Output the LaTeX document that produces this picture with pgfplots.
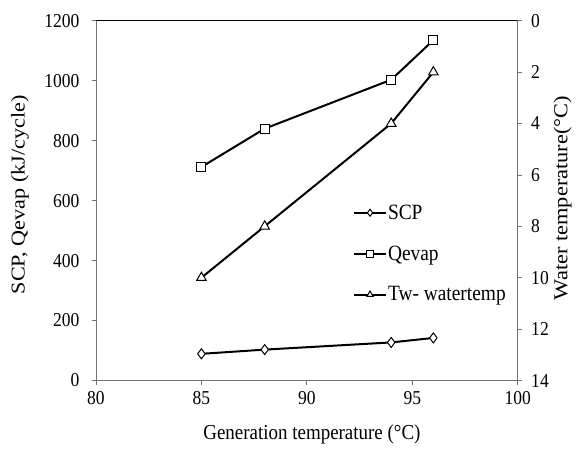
\documentclass[border=0pt]{standalone}
\usepackage{fontspec}
\setmainfont{Liberation Serif}
% the reference is stretched vertically, so text is condensed sideways
\newfontfamily\hfont[FakeStretch=0.89]{Liberation Serif}
\newfontfamily\vfont[FakeStretch=1.13]{Liberation Serif}
\usepackage{pgfplots}
\pgfplotsset{compat=1.18}

\begin{document}
\begin{tikzpicture}
\pgfplotsset{
  common/.style={
    scale only axis, width=421.7pt, height=359.8pt,
    xmin=80, xmax=100,
    tick align=outside, major tick length=4pt,
    every tick/.style={black!55, line width=0.8pt},
    axis line style={black!55, line width=0.9pt},
    tick label style={font=\hfont\fontsize{19.7}{21}\selectfont},
    /pgf/number format/assume math mode=true,
    /pgf/number format/1000 sep={},
  },
  ser/.style={black, line width=2pt, mark options={solid, fill=white, line width=1pt}},
}
\begin{axis}[
  common,
  axis x line*=bottom, axis y line*=left,
  ymin=0, ymax=1200, ytick={0,200,...,1200},
  xtick={80,85,90,95,100},
  yticklabel style={xshift=-9pt},
  xticklabel style={yshift=-3pt},
  xlabel={Generation temperature (°C)},
  ylabel={SCP, Qevap (kJ/cycle)},
  xlabel style={font=\hfont\fontsize{21.3}{23}\selectfont,
    at={(axis description cs:0.512,0)}, anchor=center, yshift=-53.5pt},
  % the label is turned by 90 degrees, so yshift moves it sideways
  ylabel style={font=\vfont\fontsize{19.6}{21}\selectfont,
    at={(axis description cs:0,0.516)}, anchor=center, yshift=76pt},
]
\addplot[ser, mark=diamond*, mark size=5pt] coordinates {(85,89) (88,103) (94,127) (96,142)};
\addplot[ser, mark=square*, mark size=4.5pt] coordinates {(85,712) (88,840) (94,1003) (96,1135)};
\end{axis}
\begin{axis}[
  common,
  axis x line=none, axis y line*=right,
  ymin=0, ymax=14, ytick={0,2,...,14}, y dir=reverse,
  yticklabel style={xshift=6pt},
  ylabel={Water temperature(°C)},
  ylabel style={font=\vfont\fontsize{19.8}{21}\selectfont,
    at={(axis description cs:1,0.507)}, anchor=center, yshift=-45pt},
  legend style={at={(0.609,0.489)}, anchor=north west, draw=none, fill=none,
    font=\hfont\fontsize{21.8}{23}\selectfont, row sep=25pt,
    inner xsep=0pt, inner ysep=0pt,
    nodes={inner xsep=1pt, inner ysep=0pt}},
  legend cell align=left,
  legend image code/.code={
    \draw[mark repeat=2, mark phase=2, #1, line width=2pt, mark size=3.5pt]
      plot coordinates {(0pt,0pt) (16pt,0pt) (32pt,0pt)};},
]
\addlegendimage{ser, mark=diamond*}
\addlegendentry{SCP}
\addlegendimage{ser, mark=square*}
\addlegendentry{Qevap}
\addplot[ser, mark=triangle*, mark size=5.5pt] coordinates {(85,10) (88,8) (94,4) (96,2)};
\addlegendentry{Tw- watertemp}
\draw[black, line width=1pt] (rel axis cs:0,1) -- (rel axis cs:1,1);
\coordinate (O) at (rel axis cs:0,0);
\end{axis}
\pgfresetboundingbox
\path (O) ++(-96pt,-67.5pt) rectangle ++(578pt,448pt);
\end{tikzpicture}
\end{document}
